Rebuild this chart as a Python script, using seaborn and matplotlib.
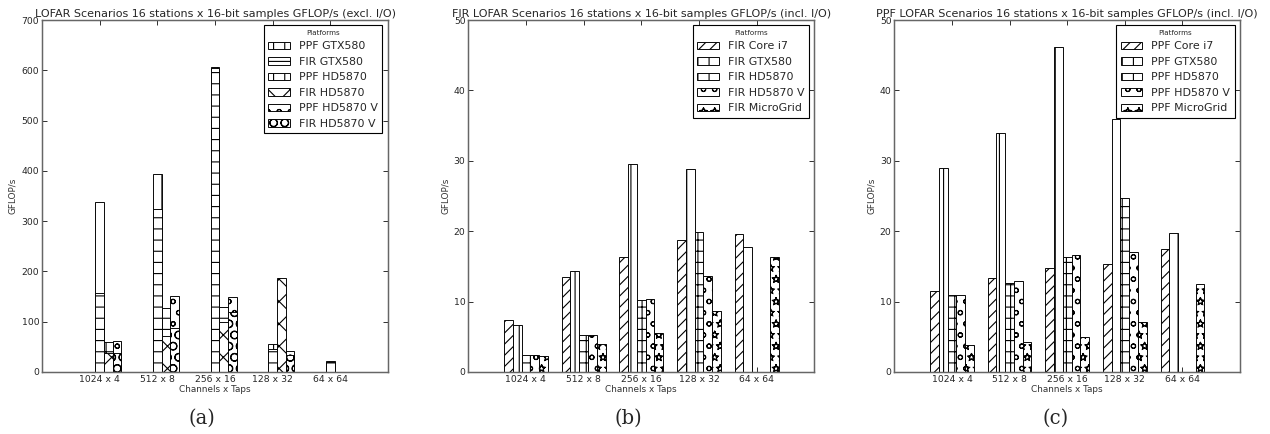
import numpy as np
import pandas as pd
import seaborn as sns
import matplotlib.pyplot as plt
import matplotlib.hatch
from matplotlib.patches import Patch

##########
# Data   #
##########

scenarios = ["1024 x 4", "512 x 8", "256 x 16", "128 x 32", "64 x 64"]

# (a) excl. I/O -- PPF and FIR of one device share a slot, FIR drawn on top
devices_a = ["GTX580", "HD5870", "HD5870 V"]
ppf_gtx580_a = [339, 394, 607, 56, 22.5]
fir_gtx580_a = [158, 325, 604, 45, 19]
ppf_hd5870_a = [60, 128, 129, np.nan, np.nan]
fir_hd5870_a = [37, 72, 100, 186, np.nan]
ppf_hd5870v_a = [62, 152, 149, 42, np.nan]
fir_hd5870v_a = [38, 88, 120, 34, np.nan]
labels_a = ["PPF GTX580", "FIR GTX580", "PPF HD5870", "FIR HD5870", "PPF HD5870 V", "FIR HD5870 V"]

# (b) FIR incl. I/O
platforms = ["Core i7", "GTX580", "HD5870", "HD5870 V", "MicroGrid"]
fir_core_i7 = [7.4, 13.5, 16.3, 18.8, 19.6]
fir_gtx580 = [6.7, 14.3, 29.5, 28.8, 17.7]
fir_hd5870 = [2.4, 5.2, 10.2, 19.9, np.nan]
fir_hd5870v = [2.45, 5.3, 10.35, 13.7, np.nan]
fir_microgrid = [2.25, 4.0, 5.6, 8.7, 16.4]

# (c) PPF incl. I/O
ppf_core_i7 = [11.5, 13.4, 14.8, 15.3, 17.5]
ppf_gtx580 = [29.0, 34.0, 46.2, 36.0, 19.7]
ppf_hd5870 = [10.9, 12.7, 16.4, 24.7, np.nan]
ppf_hd5870v = [10.9, 12.9, 16.6, 17.1, np.nan]
ppf_microgrid = [3.8, 4.25, 4.9, 7.1, 12.5]


def long_form(names, series):
    return pd.DataFrame({
        "scenario": scenarios * len(names),
        "platform": np.repeat(names, len(scenarios)),
        "gflops": np.concatenate([np.asarray(s, dtype=float) for s in series]),
    })


##########
# Style  #
##########

DPI = 67
sns.set_theme(style="ticks")
plt.rcParams["font.family"] = ["DejaVu Sans"]
plt.rcParams["hatch.linewidth"] = 1.2
plt.rcParams["hatch.color"] = "black"
# old-style outlined stars instead of filled ones
matplotlib.hatch.Stars.filled = False

fig = plt.figure(figsize=(1270 / DPI, 434 / DPI), dpi=DPI)

bottom, height = 0.1429, 0.9539 - 0.1429
ax_a = fig.add_axes([0.0331, bottom, 0.3055 - 0.0331, height])
ax_b = fig.add_axes([0.3687, bottom, 0.6412 - 0.3687, height])
ax_c = fig.add_axes([0.7042, bottom, 0.9764 - 0.7042, height])

bar_kw = dict(x="scenario", y="gflops", hue="platform", order=scenarios,
              saturation=1, edgecolor="black", linewidth=1.0,
              errorbar=None, legend=False)


def style_axes(ax, title, ymax, ystep):
    ax.set_title(title, fontsize=11.9, pad=3.5)
    ax.set_ylim(0, ymax)
    ax.set_yticks(np.arange(0, ymax + 1, ystep))
    ax.set_xlabel("Channels x Taps", fontsize=9.6, labelpad=1.5, color="0.2")
    ax.set_ylabel("GFLOP/s", fontsize=9.5, labelpad=4.5, color="0.2")
    ax.tick_params(direction="in", length=5, width=1, top=True, right=True,
                   labelsize=9.9, labelcolor="0.15", pad=3)
    for s in ax.spines.values():
        s.set_linewidth(1.6)
        s.set_color("0.4")


def add_legend(ax, labels, hatches):
    handles = [Patch(facecolor="white", edgecolor="black", hatch=h, label=l)
               for l, h in zip(labels, hatches)]
    leg = ax.legend(handles=handles, title="Platforms", loc="upper right",
                    fontsize=11.8, title_fontsize=7.7, fancybox=False,
                    framealpha=1, edgecolor="black", borderaxespad=0.5)
    leg.get_frame().set_linewidth(1.2)


#############
# Chart (a) #
#############

ppf_a = long_form(devices_a, [ppf_gtx580_a, ppf_hd5870_a, ppf_hd5870v_a])
fir_a = long_form(devices_a, [fir_gtx580_a, fir_hd5870_a, fir_hd5870v_a])
sns.barplot(data=ppf_a, hue_order=devices_a, palette=["white"] * 3, width=0.45, ax=ax_a, **bar_kw)
sns.barplot(data=fir_a, hue_order=devices_a, palette=["white"] * 3, width=0.45, ax=ax_a, **bar_kw)
hatches_a = ["|", "-", "+", "x", "o", "O"]
slot_order = [0, 2, 4, 1, 3, 5]  # containers: PPF x3 then FIR x3
for cont, k in zip(ax_a.containers, slot_order):
    for p in cont:
        p.set_hatch(hatches_a[k])
bar_w = 0.45 / 3
ax_a.set_xticks(np.arange(len(scenarios)) - bar_w, scenarios)
ax_a.set_xlim(-1 - bar_w, len(scenarios) - bar_w)
style_axes(ax_a, "LOFAR Scenarios 16 stations x 16-bit samples GFLOP/s (excl. I/O)", 700, 100)
add_legend(ax_a, labels_a, hatches_a)

#############
# Chart (b) #
#############

hatches_bc = ["//", "|", "+", "o", "*"]
df_b = long_form(platforms, [fir_core_i7, fir_gtx580, fir_hd5870, fir_hd5870v, fir_microgrid])
sns.barplot(data=df_b, hue_order=platforms, palette=["white"] * 5, width=0.76, ax=ax_b, **bar_kw)
for cont, h in zip(ax_b.containers, hatches_bc):
    for p in cont:
        p.set_hatch(h)
ax_b.set_xlim(-1, len(scenarios))
style_axes(ax_b, "FIR LOFAR Scenarios 16 stations x 16-bit samples GFLOP/s (incl. I/O)", 50, 10)
add_legend(ax_b, ["FIR " + p for p in platforms], hatches_bc)

#############
# Chart (c) #
#############

df_c = long_form(platforms, [ppf_core_i7, ppf_gtx580, ppf_hd5870, ppf_hd5870v, ppf_microgrid])
sns.barplot(data=df_c, hue_order=platforms, palette=["white"] * 5, width=0.76, ax=ax_c, **bar_kw)
for cont, h in zip(ax_c.containers, hatches_bc):
    for p in cont:
        p.set_hatch(h)
ax_c.set_xlim(-1, len(scenarios))
style_axes(ax_c, "PPF LOFAR Scenarios 16 stations x 16-bit samples GFLOP/s (incl. I/O)", 50, 10)
add_legend(ax_c, ["PPF " + p for p in platforms], hatches_bc)

# sub-figure captions
for x, cap in [(202, "(a)"), (628, "(b)"), (1056, "(c)")]:
    fig.text(x / 1270, 0.037, cap, fontsize=21, family="DejaVu Serif",
             ha="center", va="center")

fig.savefig("out.png", dpi=DPI)
